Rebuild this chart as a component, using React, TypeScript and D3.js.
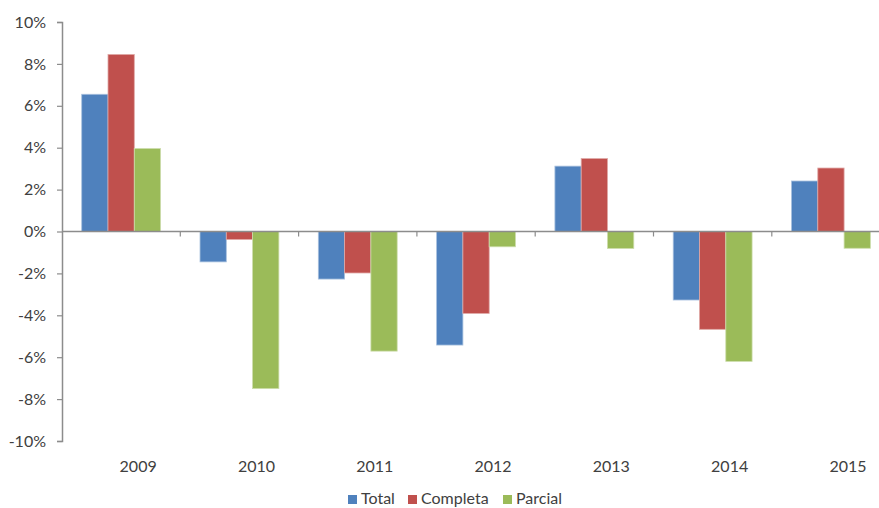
import * as d3 from 'd3'
import { useRef, useEffect } from 'react'

const years = ['2009', '2010', '2011', '2012', '2013', '2014', '2015']
const seriesNames = ['Total', 'Completa', 'Parcial']
const total = [6.55, -1.45, -2.27, -5.42, 3.12, -3.27, 2.41]
const completa = [8.45, -0.38, -1.98, -3.91, 3.48, -4.67, 3.03]
const parcial = [3.96, -7.5, -5.71, -0.73, -0.81, -6.2, -0.8]
const yTicks = [-10, -8, -6, -4, -2, 0, 2, 4, 6, 8, 10]
const colors = ['#4F81BD', '#C0504D', '#9BBB59']
const strokes = ['#A7C0DE', '#DFA8A6', '#CDDDAC']

const width = 879
const height = 508
const marginLeft = 62
const marginTop = 22
const plotBottom = 441
const step = 118.3
const font = 'Lato, "Open Sans", sans-serif'
const textColor = '#404040'
const axisColor = '#8C8C8C'

export default function App() {
  const gy = useRef<SVGGElement>(null)
  const values = [total, completa, parcial]

  const x0 = d3.scaleBand(years, [marginLeft, marginLeft + step * years.length]).padding(0)
  const x1 = d3
    .scaleBand(seriesNames, [0, x0.bandwidth()])
    .paddingInner(0)
    .paddingOuter(0.75)
  const y = d3.scaleLinear([-10, 10], [plotBottom, marginTop])

  useEffect(() => {
    const g = d3.select(gy.current)
    g.call(
      d3
        .axisLeft(y)
        .tickValues(yTicks)
        .tickSize(5)
        .tickPadding(11)
        .tickFormat((d) => `${d}%`) as any
    )
    g.select('.domain').attr('stroke', axisColor).attr('stroke-width', 1.5)
    g.selectAll('.tick line').attr('stroke', axisColor).attr('stroke-width', 1.2)
    g.selectAll('.tick text')
      .attr('fill', textColor)
      .attr('font-size', 16)
      .attr('font-family', font)
  }, [y])

  return (
    <svg
      width={width}
      height={height}
      style={{ position: 'absolute', left: 0, top: 0, background: '#fff' }}
    >
      {values.map((vals, si) => (
        <g key={si} fill={colors[si]} stroke={strokes[si]} strokeWidth={0.8}>
          {vals.map((v, i) => (
            <rect
              key={i}
              x={(x0(years[i]) ?? 0) + (x1(seriesNames[si]) ?? 0)}
              y={y(Math.max(0, v))}
              width={x1.bandwidth()}
              height={Math.abs(y(v) - y(0))}
            />
          ))}
        </g>
      ))}
      <line
        x1={marginLeft}
        x2={marginLeft + step * years.length}
        y1={y(0)}
        y2={y(0)}
        stroke={axisColor}
        strokeWidth={1.5}
      />
      {years.map((yr) => (
        <line
          key={yr}
          x1={(x0(yr) ?? 0) + step}
          x2={(x0(yr) ?? 0) + step}
          y1={y(0)}
          y2={y(0) + 5}
          stroke={axisColor}
          strokeWidth={1.2}
        />
      ))}
      <g ref={gy} transform={`translate(${marginLeft},0)`} />
      {years.map((yr) => (
        <text
          key={yr}
          x={(x0(yr) ?? 0) + x0.bandwidth() / 2 + 17}
          y={472}
          textAnchor="middle"
          fontSize={16}
          fontFamily={font}
          fill={textColor}
        >
          {yr}
        </text>
      ))}
      <g fontFamily={font} fontSize={16} fill={textColor}>
        {seriesNames.map((s, i) => {
          const lx = [348, 408, 503][i]
          return (
            <g key={s} transform={`translate(${lx},495)`}>
              <rect width={9} height={9} fill={colors[i]} />
              <text x={13} y={9}>
                {s}
              </text>
            </g>
          )
        })}
      </g>
    </svg>
  )
}
